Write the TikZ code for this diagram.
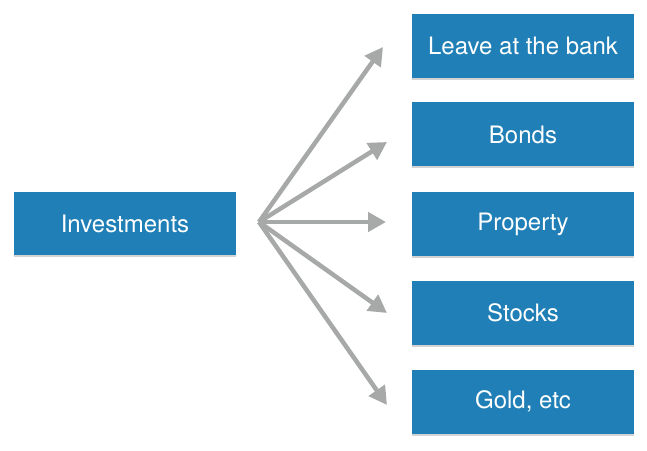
\documentclass[tikz,border=0pt]{standalone}
\usepackage{fontspec}
\setmainfont{TeX Gyre Heros}
\usetikzlibrary{arrows.meta,shadows}
\definecolor{boxblue}{RGB}{31,127,182}
\definecolor{arrowgray}{RGB}{166,169,167}
\tikzset{
    choice/.style={fill=boxblue,text=white,minimum width=222pt,minimum height=64pt,inner sep=0pt,outer sep=0pt,
        font=\fontsize{24}{28}\selectfont,
        drop shadow={shadow xshift=0pt,shadow yshift=-2pt,opacity=0.35}},
    flow/.style={arrowgray,line width=4.5pt,-{Triangle[length=18pt,width=19pt]}}
}
\begin{document}
\begin{tikzpicture}[x=1pt,y=1pt]
            \useasboundingbox (0,0) rectangle (647,450);

            \node[choice,minimum height=63pt] (A) at (125, 226.5) {Investments};
            \node[choice] (B) at (523, 404) {Leave at the bank};
            \node[choice] (C) at (523, 315.5) {Bonds};
            \node[choice] (D) at (523, 226) {Property};
            \node[choice] (E) at (523, 137.5) {Stocks};
            \node[choice] (F) at (523, 48.5) {Gold, etc};

            % arrow ends
            \coordinate (H) at (259, 228);
            \coordinate (T1) at (383, 403);
            \coordinate (T2) at (387, 308);
            \coordinate (T3) at (386, 228);
            \coordinate (T4) at (387, 137);
            \coordinate (T5) at (387, 45);

            \draw[flow] (H) to (T1);
            \draw[flow] (H) to (T2);
            \draw[flow] (H) to (T3);
            \draw[flow] (H) to (T4);
            \draw[flow] (H) to (T5);

        \end{tikzpicture}
\end{document}
